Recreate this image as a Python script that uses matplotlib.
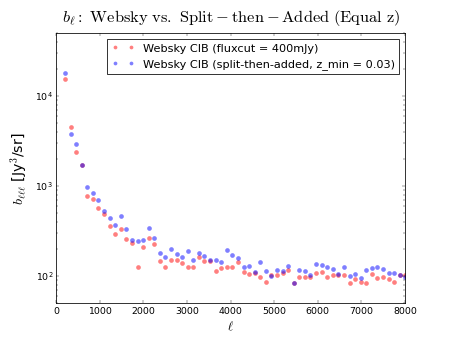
import numpy as np
import matplotlib
matplotlib.use("Agg")
import matplotlib.pyplot as plt

plt.style.use('classic')
plt.rcParams['mathtext.fontset'] = 'cm'

ell = np.arange(200, 8010, 128)

bl_websky = [15600, 4490, 2390, 1700, 780, 711, 565, 493, 359, 296,
             336, 258, 233, 128, 212, 267, 227, 147, 127, 153,
             153, 139, 126, 127, 163, 146, 146, 113, 122, 127,
             127, 143, 112, 106, 109, 97.5, 86.7, 104, 104, 109,
             117, 85, 99, 97.5, 97.5, 108, 111, 99, 103, 104,
             104, 84.4, 92, 87, 84, 107, 96, 98.5, 92, 87,
             102, 104]
bl_split = [17870, 3750, 2930, 1700, 978, 836, 699, 524, 441, 366,
            469, 336, 249, 243, 251, 347, 267, 179, 164, 198,
            175, 164, 190, 152, 182, 167, 151, 153, 145, 193,
            171, 160, 128, 130, 111, 145, 114, 101, 118, 114,
            130, 85, 118, 114, 102, 137, 134, 125, 119, 105,
            125, 100, 105, 96, 118, 123, 127, 120, 108, 109,
            102, 97]

fig = plt.figure(figsize=(8, 6), dpi=56.25)
ax = fig.add_subplot(111)
ax.plot(ell, bl_websky, 'o', color='r', alpha=0.5, ms=6, mew=0,
        label='Websky CIB (fluxcut = 400mJy)')
ax.plot(ell, bl_split, 'o', color='b', alpha=0.5, ms=6, mew=0,
        label='Websky CIB (split-then-added, z_min = 0.03)')
ax.set_yscale('log')
ax.set_xlim(0, 8000)
ax.set_ylim(50, 5e4)
ax.set_xlabel(r'$\ell$', fontsize=16)
ax.set_ylabel(r'$b_{\ell\ell\ell}$ [Jy$^3$/sr]', fontsize=18)
ax.set_title(r'$b_{\ell}\rm{{:}\ Websky\ vs.\ Split-then-Added\ (Equal\ z)}$', fontsize=21, y=1.03)
ax.legend(loc='upper right', numpoints=2, fontsize=14.4, markerscale=0.8)
fig.savefig('out.png', dpi=56.25)
